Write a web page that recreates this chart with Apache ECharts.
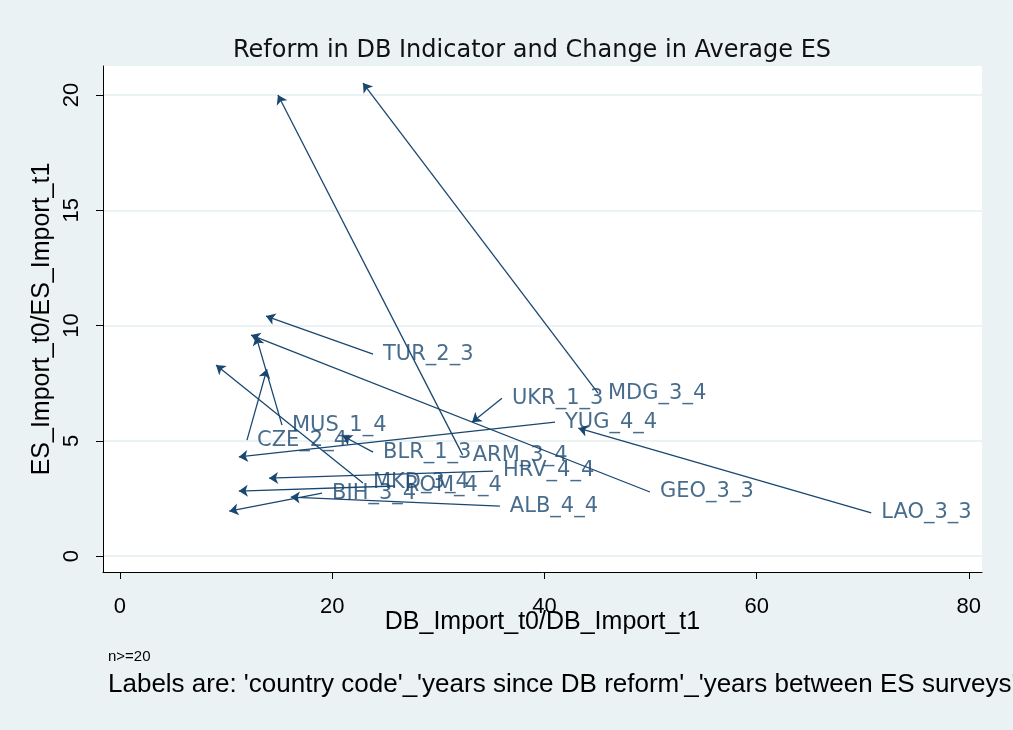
<!DOCTYPE html>
<html>
<head>
<meta charset="utf-8">
<script src="https://cdn.jsdelivr.net/npm/echarts@6/dist/echarts.min.js"></script>
<style>
html, body { margin: 0; padding: 0; background: #eaf2f3; }
#chart { width: 1013px; height: 730px; }
</style>
</head>
<body>
<div id="chart"></div>
<script>
'use strict'
// arrow labels, tails (t0) and heads (t1)
var countries = ['MDG_3_4', 'ARM_3_4', 'TUR_2_3', 'UKR_1_3', 'YUG_4_4', 'LAO_3_3', 'GEO_3_3', 'CZE_2_4',
    'MUS_1_4', 'BLR_1_3', 'HRV_4_4', 'MKD_3_4', 'ROM_4_4', 'BIH_3_4', 'ALB_4_4'];
var dbFrom = [45.05, 32.3, 23.85, 36.0, 41.0, 70.8, 49.95, 11.97, 15.27, 23.85, 35.15, 22.9, 25.9, 19.05, 35.8];
var esFrom = [7.07, 4.38, 8.76, 6.85, 5.81, 1.87, 2.78, 5.03, 5.68, 4.51, 3.69, 3.17, 3.04, 2.73, 2.17];
var dbTo = [22.9, 14.89, 13.76, 33.18, 11.2, 43.2, 12.35, 13.85, 12.82, 21.0, 14.05, 9.05, 11.2, 10.3, 16.1];
var esTo = [20.52, 20.0, 10.41, 5.81, 4.30, 5.55, 9.59, 8.11, 9.54, 5.21, 3.38, 8.29, 2.82, 1.95, 2.56];

var xTicks = [0, 20, 40, 60, 80];
var yTicks = [0, 5, 10, 15, 20];

var navy = '#1a476f';
var chart = echarts.init(document.getElementById('chart'));

var arrows = [];
var tails = [];
for (var i = 0; i < countries.length; i++) {
    arrows.push({coords: [[dbFrom[i], esFrom[i]], [dbTo[i], esTo[i]]]});
    tails.push([dbFrom[i], esFrom[i], countries[i]]);
}

var option = {
    backgroundColor: '#eaf2f3',
    animation: false,
    title: {
        text: 'Reform in DB Indicator and Change in Average ES',
        left: 228,
        top: 34,
        textStyle: {
            fontFamily: 'DejaVu Sans',
            fontSize: 24,
            fontWeight: 'normal',
            color: '#111'
        }
    },
    grid: {
        left: 103,
        right: 31,
        top: 66,
        bottom: 158,
        show: true,
        backgroundColor: '#ffffff',
        borderWidth: 0
    },
    xAxis: {
        type: 'value',
        min: -1.6,
        max: 81.24,
        name: 'DB_Import_t0/DB_Import_t1',
        nameLocation: 'middle',
        nameGap: 38,
        nameMoveOverlap: false,
        nameTextStyle: {
            fontFamily: 'Liberation Sans',
            fontSize: 25,
            color: '#000'
        },
        axisLine: {onZero: false, lineStyle: {color: '#000', width: 1}},
        axisTick: {customValues: xTicks, length: 7, lineStyle: {color: '#000'}},
        axisLabel: {
            customValues: xTicks,
            margin: 24,
            fontFamily: 'Liberation Sans',
            fontSize: 22,
            color: '#000'
        },
        splitLine: {show: false}
    },
    yAxis: {
        type: 'value',
        min: -0.69,
        max: 21.26,
        name: 'ES_Import_t0/ES_Import_t1',
        nameLocation: 'middle',
        nameRotate: 90,
        nameGap: 48,
        nameMoveOverlap: false,
        nameTextStyle: {
            fontFamily: 'Liberation Sans',
            fontSize: 25,
            color: '#000'
        },
        axisLine: {onZero: false, lineStyle: {color: '#000', width: 1}},
        axisTick: {customValues: yTicks, length: 7, lineStyle: {color: '#000'}},
        axisLabel: {
            customValues: yTicks,
            rotate: 90,
            margin: 20,
            fontFamily: 'Liberation Sans',
            fontSize: 22,
            color: '#000'
        },
        splitLine: {show: true, lineStyle: {color: '#eaf2f3', width: 2}}
    },
    graphic: [
        {
            type: 'text',
            left: 108,
            top: 649,
            style: {text: 'n>=20', font: '15px "Liberation Sans"', fill: '#000'}
        },
        {
            type: 'text',
            left: 108,
            top: 672,
            style: {
                text: "Labels are: 'country code'_'years since DB reform'_'years between ES surveys'",
                font: '26px "Liberation Sans"',
                fill: '#000'
            }
        }
    ],
    series: [
        {
            name: 'arrows',
            type: 'lines',
            coordinateSystem: 'cartesian2d',
            polyline: false,
            symbol: ['none', 'arrow'],
            symbolSize: 9,
            lineStyle: {color: navy, width: 1.3, opacity: 1, curveness: 0},
            data: arrows,
            silent: true
        },
        {
            name: 'labels',
            type: 'scatter',
            symbolSize: 0,
            data: tails,
            label: {
                show: true,
                position: 'right',
                distance: 10,
                formatter: function (p) { return p.data[2]; },
                fontFamily: 'DejaVu Sans',
                fontSize: 21,
                color: navy
            },
            silent: true
        }
    ]
};

chart.setOption(option);
</script>
</body>
</html>
